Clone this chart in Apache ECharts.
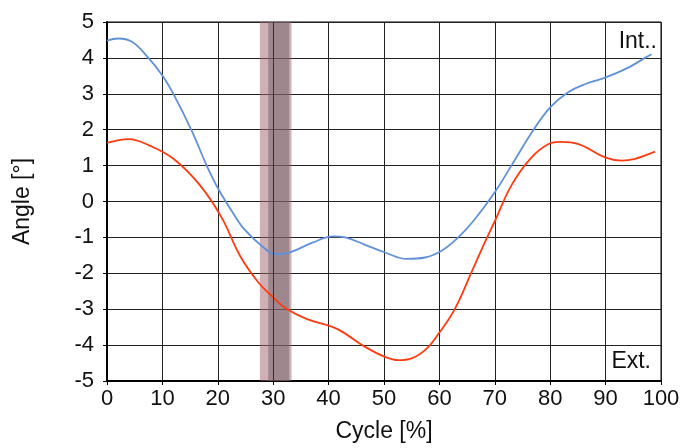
<!DOCTYPE html>
<html><head><meta charset="utf-8">
<script src="https://cdn.jsdelivr.net/npm/echarts@6/dist/echarts.min.js"></script>
<style>html,body{margin:0;padding:0;background:#fff}#c{width:695px;height:448px}</style>
</head><body><div id="c"></div>
<script>
var cycleInt = [0, 2, 4.5, 7.2, 10, 12, 15.3, 18, 20.1, 23.4, 24.5, 27.6, 30.6, 33, 37.2, 40.8, 43, 46.5, 50.2, 54.1, 57.4, 60.4, 63.4, 66.1, 70, 73, 76.7, 80, 83.3, 86.5, 89.9, 94.1, 97.1, 98.3];
var angleInt = [4.48, 4.54, 4.45, 4.05, 3.51, 2.99, 1.97, 1.0, 0.35, -0.48, -0.72, -1.19, -1.47, -1.42, -1.14, -0.97, -1.0, -1.2, -1.42, -1.6, -1.56, -1.37, -1.0, -0.55, 0.26, 1.0, 1.93, 2.62, 3.05, 3.28, 3.45, 3.73, 4.0, 4.1];
var cycleExt = [0, 3.9, 7.8, 12, 16.8, 20.7, 24, 27.3, 30, 32.4, 36, 40.8, 43, 46.6, 50.2, 52.6, 55, 57.7, 60.1, 62.8, 65.8, 68.2, 70, 73, 76.4, 79.7, 81.8, 85.1, 89.9, 92.9, 95.3, 98.9];
var angleExt = [1.63, 1.74, 1.55, 1.19, 0.45, -0.45, -1.51, -2.25, -2.67, -2.99, -3.27, -3.5, -3.68, -4.05, -4.33, -4.42, -4.37, -4.1, -3.63, -2.99, -1.97, -1.14, -0.55, 0.45, 1.19, 1.6, 1.66, 1.6, 1.23, 1.14, 1.19, 1.39];
var bandOuter = [27.6, 33.3];
var bandInner = [29.1, 32.9];
var markerX = 30;
var xTicks = [0, 10, 20, 30, 40, 50, 60, 70, 80, 90, 100];
var yTicks = [-5, -4, -3, -2, -1, 0, 1, 2, 3, 4, 5];

function zip(a, b) { return a.map(function (v, i) { return [v, b[i]]; }); }

var chart = echarts.init(document.getElementById('c'), null, {renderer: 'canvas'});
var FONT = 'Liberation Sans, Arial, sans-serif';
chart.setOption({
  animation: false,
  grid: {left: 107, right: 34, top: 22, bottom: 65, show: true, borderColor: '#000', borderWidth: 1},
  xAxis: {
    type: 'value', min: xTicks[0], max: xTicks[xTicks.length - 1], interval: 10,
    name: 'Cycle [%]', nameLocation: 'middle', nameGap: 39,
    nameTextStyle: {fontFamily: FONT, fontSize: 23, color: '#111'},
    axisLine: {onZero: false, lineStyle: {color: '#000', width: 2}},
    axisTick: {show: true, length: 4, lineStyle: {color: '#000'}},
    axisLabel: {fontFamily: FONT, fontSize: 22, color: '#111', margin: 7},
    splitLine: {show: true, lineStyle: {color: '#222', width: 1}}
  },
  yAxis: {
    type: 'value', min: yTicks[0], max: yTicks[yTicks.length - 1], interval: 1,
    name: 'Angle [°]', nameLocation: 'middle', nameGap: 73, nameRotate: 90,
    nameTextStyle: {fontFamily: FONT, fontSize: 23, color: '#111'},
    axisLine: {onZero: false, lineStyle: {color: '#000', width: 2}},
    axisTick: {show: true, length: 4, lineStyle: {color: '#000'}},
    axisLabel: {fontFamily: FONT, fontSize: 22, color: '#111', margin: 13},
    splitLine: {show: true, lineStyle: {color: '#222', width: 1}}
  },
  series: [
    {
      type: 'line', data: [], silent: true,
      markArea: {silent: true, data: [
        [{xAxis: bandOuter[0], itemStyle: {color: 'rgba(160,100,107,0.5)'}}, {xAxis: bandOuter[1]}],
        [{xAxis: bandInner[0], itemStyle: {color: 'rgba(109,93,101,0.5)'}}, {xAxis: bandInner[1]}]
      ]},
      markLine: {silent: true, symbol: 'none', label: {show: false},
        lineStyle: {color: '#3a2a30', width: 1, type: 'solid'},
        data: [{xAxis: markerX}]}
    },
    {
      name: 'Int.', type: 'line', smooth: 0.4, showSymbol: false,
      data: zip(cycleInt, angleInt),
      lineStyle: {color: '#5f92d8', width: 1.8}
    },
    {
      name: 'Ext.', type: 'line', smooth: 0.4, showSymbol: false,
      data: zip(cycleExt, angleExt),
      lineStyle: {color: '#ff3b10', width: 1.8}
    }
  ],
  graphic: [
    {type: 'text', right: 38, top: 30, style: {text: 'Int..', font: '23px ' + FONT, fill: '#111'}},
    {type: 'text', right: 44, top: 350, style: {text: 'Ext.', font: '23px ' + FONT, fill: '#111'}}
  ]
});
</script></body></html>
